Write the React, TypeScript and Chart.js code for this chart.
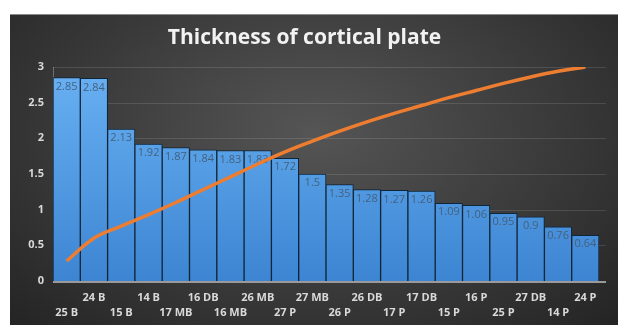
import React, { useEffect, useRef } from "react";
import { Chart, registerables } from "chart.js";

Chart.register(...registerables);

const categories = ["25 B", "24 B", "15 B", "14 B", "17 MB", "16 DB", "16 MB", "26 MB", "27 P", "27 MB", "26 P", "26 DB", "17 P", "17 DB", "15 P", "16 P", "25 P", "27 DB", "14 P", "24 P"];
const thickness = [2.85, 2.84, 2.13, 1.92, 1.87, 1.84, 1.83, 1.83, 1.72, 1.5, 1.35, 1.28, 1.27, 1.26, 1.09, 1.06, 0.95, 0.9, 0.76, 0.64];
const trend = [0.28, 0.6, 0.77, 0.93, 1.1, 1.28, 1.46, 1.64, 1.81, 1.96, 2.1, 2.23, 2.35, 2.46, 2.57, 2.67, 2.77, 2.86, 2.94, 3.0];
const yTicks = [0, 0.5, 1, 1.5, 2, 2.5, 3];
const titleText = "Thickness of cortical plate";

const gridPlugin = {
  id: "customGrid",
  beforeDatasetsDraw(chart: any) {
    const { ctx, chartArea } = chart;
    const y = chart.scales.y;
    ctx.save();
    yTicks.forEach((v) => {
      if (v === 0) return;
      const py = Math.round(y.getPixelForValue(v)) + 0.5;
      ctx.beginPath();
      ctx.strokeStyle = "rgba(255,255,255,0.12)";
      ctx.lineWidth = 1;
      ctx.moveTo(chartArea.left, py);
      ctx.lineTo(chartArea.right + 7, py);
      ctx.stroke();
    });
    ctx.restore();
  },
  afterDatasetsDraw(chart: any) {
    const { ctx, chartArea } = chart;
    const y = chart.scales.y;
    const py = y.getPixelForValue(0);
    ctx.save();
    ctx.strokeStyle = "#9a9a9a";
    ctx.lineWidth = 2;
    ctx.beginPath();
    ctx.moveTo(chartArea.left, py + 1);
    ctx.lineTo(chartArea.right + 7, py + 1);
    ctx.stroke();
    ctx.restore();
  },
};

const barLabelPlugin = {
  id: "barLabels",
  afterDatasetDraw(chart: any, args: any) {
    if (args.index !== 1) return;
    const { ctx } = chart;
    const meta = args.meta;
    ctx.save();
    ctx.font = "11px 'Open Sans'";
    ctx.fillStyle = "#44627f";
    ctx.textAlign = "center";
    ctx.textBaseline = "middle";
    meta.data.forEach((el: any, i: number) => {
      ctx.fillText(String(thickness[i]), el.x, el.y + 9);
    });
    ctx.restore();
  },
};

export default function App() {
  const ref = useRef<HTMLCanvasElement | null>(null);

  useEffect(() => {
    if (!ref.current) return;
    const chart = new Chart(ref.current, {
      type: "bar",
      data: {
        labels: categories,
        datasets: [
          {
            type: "line",
            label: "Trend",
            data: trend,
            borderColor: "#ed7d31",
            borderWidth: 3.5,
            tension: 0.4,
            pointRadius: 0,
            fill: false,
            order: 0,
          } as any,
          {
            type: "bar",
            label: "Thickness",
            data: thickness,
            backgroundColor: (c: any) => {
              const area = c.chart.chartArea;
              if (!area) return "#5aa3ea";
              const g = c.chart.ctx.createLinearGradient(0, area.top, 0, area.bottom);
              g.addColorStop(0, "#69b1f3");
              g.addColorStop(1, "#3d85d2");
              return g;
            },
            borderColor: "#0f2538",
            borderWidth: 1,
            barPercentage: 1,
            categoryPercentage: 1,
            order: 1,
          },
        ],
      },
      options: {
        responsive: false,
        animation: false,
        layout: { padding: { left: 0, right: 19, top: 0, bottom: 0 } },
        plugins: {
          legend: { display: false },
          tooltip: { enabled: false },
          title: {
            display: true,
            text: titleText,
            color: "#f2f2f2",
            font: { family: "'Open Sans'", size: 21, weight: "bold", lineHeight: 1.2 },
            padding: { top: 11, bottom: 16.8 },
          },
        },
        scales: {
          x: {
            grid: { display: false, drawTicks: false },
            border: { display: false },
            ticks: {
              autoSkip: false,
              maxRotation: 0,
              minRotation: 0,
              padding: 9.5,
              color: "#d9d9d9",
              font: { family: "'Open Sans'", size: 11, weight: "bold", lineHeight: "15px" } as any,
              callback: function (this: any, value: any, index: number) {
                const lbl = this.getLabelForValue(value);
                return index % 2 === 1 ? [lbl] : ["", lbl];
              },
            },
            afterFit: (s: any) => {
              s.height = 44;
            },
          },
          y: {
            min: 0,
            max: 3,
            grid: { display: false, drawTicks: false },
            border: { display: true, color: "#6e6e6e", width: 1 },
            ticks: {
              stepSize: 0.5,
              padding: 9,
              color: "#d9d9d9",
              font: { family: "'Open Sans'", size: 11, weight: "bold" },
              callback: (v: any) => String(Number(v)),
            },
            afterFit: (s: any) => {
              s.width = 43;
            },
          },
        },
      },
      plugins: [gridPlugin, barLabelPlugin],
    });
    return () => chart.destroy();
  }, []);

  return (
    <div
      style={{
        position: "absolute",
        left: 10,
        top: 14,
        width: 608,
        height: 311,
        background:
          "radial-gradient(ellipse farthest-corner at 50% 38%, #555555 0%, #3d3d3d 50%, #242424 100%)",
      }}
    >
      <div style={{ position: "absolute", left: 0, top: 0, width: 608, height: 1, background: "#8a8a8a" }} />
      <canvas ref={ref} width={608} height={311} style={{ position: "absolute", left: 0, top: 0, display: "block" }} />
    </div>
  );
}
